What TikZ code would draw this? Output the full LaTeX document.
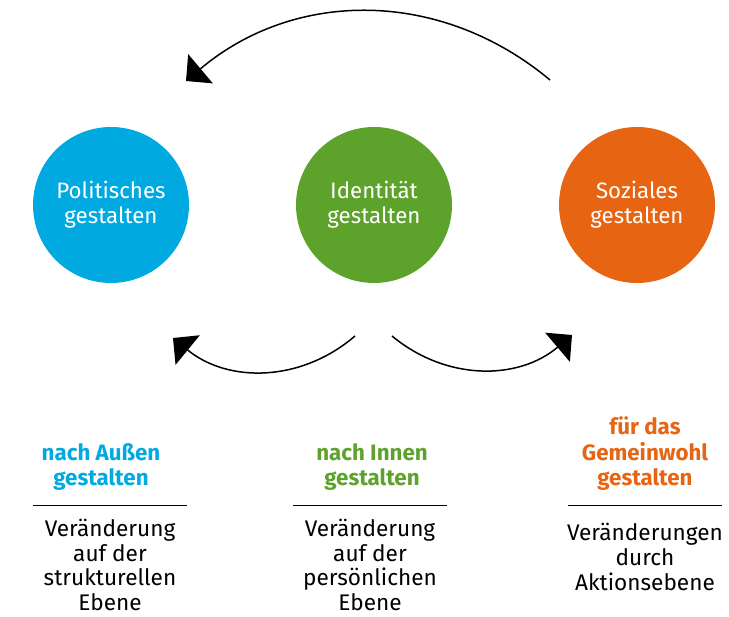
\documentclass[tikz,border=0pt]{standalone}
\usepackage{fontspec}
\setmainfont{Fira Sans}
\usetikzlibrary{arrows.meta}
\definecolor{blau}{RGB}{0,169,224}
\definecolor{gruen}{RGB}{93,163,43}
\definecolor{orangerot}{RGB}{230,100,18}

\begin{document}
\begin{tikzpicture} [
    x=1pt, y=-1pt,
    kreis/.style={circle, minimum size=156pt, inner sep=0pt, align=center, text=white, font=\fontsize{22.3}{25}\selectfont},
    titel/.style={align=center, font=\fontsize{22.3}{25.5}\selectfont\bfseries},
    beschr/.style={align=center, inner sep=0pt, font=\fontsize{22.6}{24.8}\selectfont},
    pfeil/.style={-{Triangle[length=19pt, width=38pt]}, line width=1.5pt}
]
    \useasboundingbox (0,0) rectangle (729,617);

    % Kreise
    \node[kreis, fill=blau] (pol) at (111,205) {Politisches\\gestalten};
    \node[kreis, fill=gruen] (ident) at (374,205) {Identität\\gestalten};
    \node[kreis, fill=orangerot] (sozial) at (637,205) {Soziales\\gestalten};

    % Pfeilenden
    \coordinate (obenStart) at (550,80);
    \coordinate (obenZiel) at (186,81);
    \coordinate (linksStart) at (355,336);
    \coordinate (linksZiel) at (173,338);
    \coordinate (rechtsStart) at (392,336);
    \coordinate (rechtsZiel) at (572,335);

    % Pfeile
    \draw[pfeil] (obenStart) to[bend right=40] (obenZiel);
    \draw[pfeil] (linksStart) to[bend left=40] (linksZiel);
    \draw[pfeil] (rechtsStart) to[bend right=40] (rechtsZiel);

    % Überschriften
    \node[titel, text=blau] (aussen) at (101,467) {nach Außen\\gestalten};
    \node[titel, text=gruen] (innen) at (372,467) {nach Innen\\gestalten};
    \node[titel, text=orangerot] (gemein) at (645,454) {für das\\Gemeinwohl\\gestalten};

    % Trennlinien
    \draw[line width=1pt] (33,506) -- (187,506);
    \draw[line width=1pt] (293,506) -- (447,506);
    \draw[line width=1pt] (568,506) -- (722,506);

    % Beschreibungen
    \node[beschr] (strukt) at (110,565) {Veränderung\\auf der\\strukturellen\\Ebene};
    \node[beschr] (persoen) at (370,565) {Veränderung\\auf der\\persönlichen\\Ebene};
    \node[beschr] (aktion) at (645,557) {Veränderungen\\durch\\Aktionsebene};
\end{tikzpicture}
\end{document}
